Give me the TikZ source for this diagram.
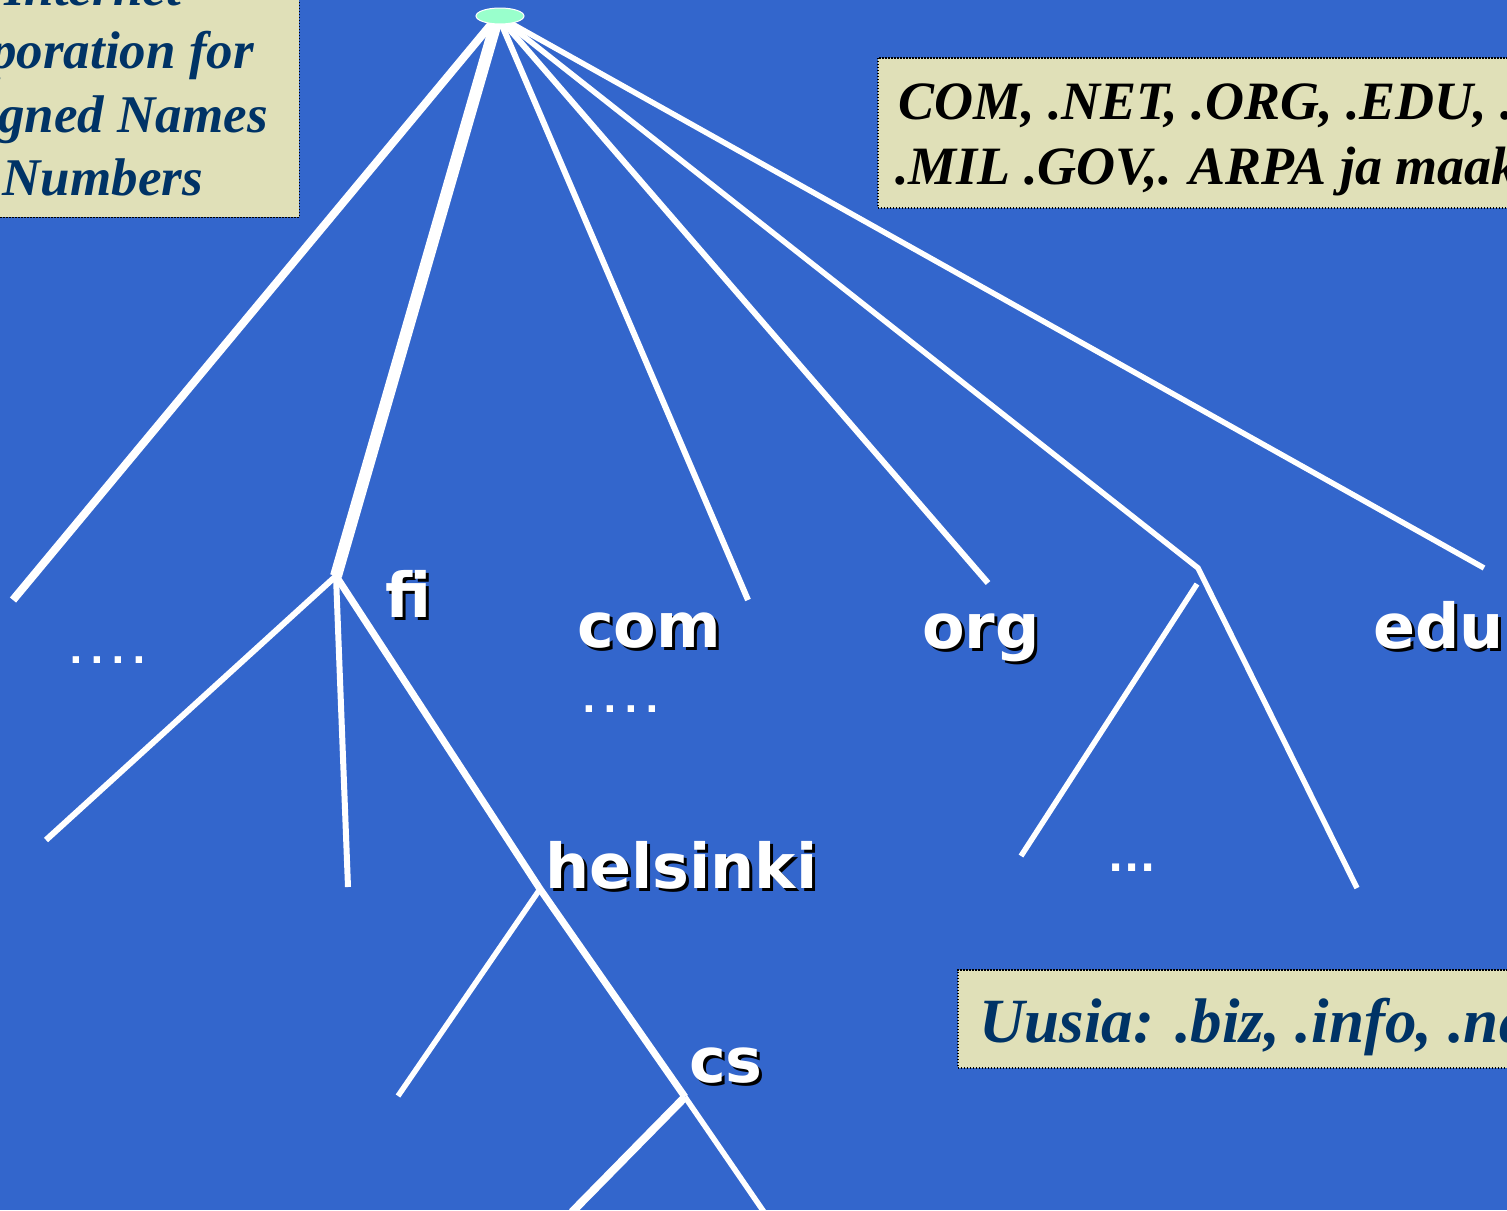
\documentclass[tikz,border=0pt]{standalone}
\usepackage{fontspec}
\setmainfont{Liberation Serif}
\newfontfamily\labelfont{DejaVu Sans}
\usetikzlibrary{shapes.geometric}
\definecolor{bg}{RGB}{51,102,204}
\definecolor{note}{RGB}{224,224,184}
\definecolor{navy}{RGB}{0,51,102}
\definecolor{rootfill}{RGB}{153,255,204}
% a dot set in a fixed-width cell, for evenly spaced ellipses
\newcommand\celldot[1]{\makebox[#1][l]{.}}
\begin{document}
\begin{tikzpicture}[x=1pt,y=-1pt,
  branch/.style={draw=white,line width=#1},
  branch/.default=6pt,
  notebox/.style={draw=black,fill=note,dash pattern=on 1.5pt off 1.5pt,line width=1.5pt,inner sep=0pt},
  notetext/.style={font=\bfseries\itshape\fontsize{#1}{#1}\selectfont,inner sep=0pt,text=navy},
  lbl/.style={font=\labelfont\bfseries\fontsize{62}{70}\selectfont,text=white,inner sep=0pt,anchor=base west},
  lblshadow/.style={lbl,text=black},
  dotrow/.style={font=\labelfont\bfseries\fontsize{#1}{#1}\selectfont,text=white,inner sep=0pt,anchor=base west}]
\useasboundingbox (0,0) rectangle (1507,1210);
\fill[bg] (0,0) rectangle (1507,1210);
\clip (0,0) rectangle (1507,1210);

% note boxes
\node[notebox,anchor=south east,minimum width=320pt,minimum height=240pt] (icann) at (300,218) {};
\node[notetext=53,anchor=base east] (icann1) at (181,5) {Internet};
\node[notetext=53,anchor=base east] (icann2) at (254,68) {Corporation for};
\node[notetext=53,anchor=base east] (icann3) at (268,132) {Assigned Names};
\node[notetext=53,anchor=base east] (icann4) at (203,195) {and Numbers};

\node[notebox,anchor=north west,minimum width=660pt,minimum height=150pt] (gtld) at (877,57) {};
\node[notetext=54,text=black,anchor=base west] (gtld1) at (898,119) {COM, .NET, .ORG, .EDU, .};
\node[notetext=54,text=black,anchor=base west] (gtld2) at (895,184) {.MIL .GOV,. ARPA ja maak};

\node[notebox,anchor=north west,minimum width=580pt,minimum height=98pt] (newtld) at (957,969) {};
\node[notetext=63,anchor=base west] (newtld1) at (979,1042) {Uusia: .biz, .info, .na};

% tree junctions and leaf ends
\coordinate (top) at (498,16);
\coordinate (fi) at (336,576);
\coordinate (hel) at (540,889);
\coordinate (cs) at (685,1097);
\coordinate (sub) at (1198,568);
\coordinate (leftend) at (13,600);
\coordinate (comend) at (748,600);
\coordinate (orgend) at (988,583);
\coordinate (eduend) at (1484,568);
\coordinate (fiA) at (46,840);
\coordinate (fiB) at (348,887);
\coordinate (helA) at (398,1096);
\coordinate (csA) at (572,1212);
\coordinate (csB) at (764,1212);
\coordinate (subA) at (1197,584);
\coordinate (subA2) at (1021,856);
\coordinate (subB) at (1357,888);

% branches from the root
\draw[branch=8pt] (top) -- (leftend);
\draw[branch=12pt] (top) -- (fi);
\draw[branch] (top) -- (comend);
\draw[branch] (top) -- (orgend);
\draw[branch=5.5pt] (top) -- (sub) -- (subB);
\draw[branch=5.5pt] (subA) -- (subA2);
\draw[branch=5.5pt] (top) -- (eduend);

% fi subtree
\draw[branch] (fi) -- (fiA);
\draw[branch] (fi) -- (fiB);
\draw[branch=7pt] (fi) -- (hel) -- (cs);
\draw[branch=5.5pt] (hel) -- (helA);
\draw[branch=8pt] (cs) -- (csA);
\draw[branch=5.5pt] (cs) -- (csB);

% root
\node[ellipse,fill=rootfill,draw=white,line width=1pt,minimum width=48pt,minimum height=16pt,inner sep=0pt] (root) at (500,16) {};

% labels with drop shadow
\node[lblshadow] (fi-s) at (388,620) {fi};
\node[lbl] (fi-l) at (385,617) {fi};
\node[lblshadow] (com-s) at (580,650) {com};
\node[lbl] (com-l) at (577,647) {com};
\node[lblshadow] (org-s) at (925,651) {org};
\node[lbl] (org-l) at (922,648) {org};
\node[lblshadow] (edu-s) at (1376,651) {edu};
\node[lbl] (edu-l) at (1373,648) {edu};
\node[lblshadow] (hel-s) at (548,891) {helsinki};
\node[lbl] (hel-l) at (545,888) {helsinki};
\node[lblshadow] (cs-s) at (692,1085) {cs};
\node[lbl] (cs-l) at (689,1082) {cs};

% elided siblings
\node[dotrow=36] (dots1) at (69,663) {\celldot{21pt}\celldot{21pt}\celldot{21pt}\celldot{21pt}};
\node[dotrow=36] (dots2) at (582,712) {\celldot{21pt}\celldot{21pt}\celldot{21pt}\celldot{21pt}};
\node[dotrow=40] (dots3) at (1108,871) {\celldot{16pt}\celldot{16pt}\celldot{16pt}};
\end{tikzpicture}
\end{document}
